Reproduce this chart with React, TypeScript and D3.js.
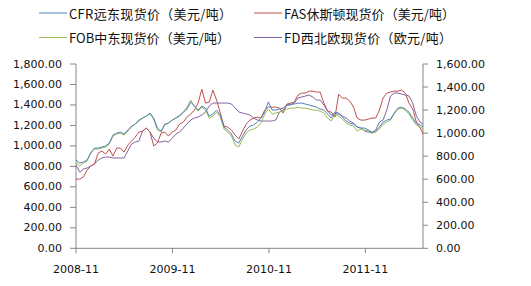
import React from "react";
import * as d3 from "d3";

// ---- data (biweekly observations starting 2008-11-01) ----
const START_DATE = "2008-11-01";
const END_DATE = "2012-06-06";
const STEP_DAYS = 14;

const SERIES_NAMES = [
  "CFR远东现货价（美元/吨）",
  "FAS休斯顿现货价（美元/吨）",
  "FOB中东现货价（美元/吨）",
  "FD西北欧现货价（欧元/吨）",
];

const CFR_FAR_EAST = [
  862, 833, 842, 862, 930, 979, 979, 989, 999, 1028,
  1106, 1125, 1135, 1116, 1155, 1194, 1213, 1252, 1272, 1291,
  1321, 1272, 1174, 1145, 1213, 1223, 1252, 1272, 1291, 1330,
  1360, 1428, 1389, 1350, 1389, 1369, 1291, 1311, 1350, 1301,
  1184, 1155, 1116, 1047, 1028, 1096, 1155, 1194, 1204, 1233,
  1272, 1330, 1430, 1350, 1350, 1360, 1369, 1399, 1409, 1409,
  1418, 1418, 1409, 1399, 1389, 1379, 1360, 1350, 1311, 1272,
  1330, 1321, 1282, 1243, 1223, 1213, 1184, 1174, 1174, 1155,
  1135, 1145, 1184, 1233, 1252, 1262, 1321, 1369, 1379, 1360,
  1330, 1272, 1223, 1204, 1184,
];

const FAS_HOUSTON = [
  676, 676, 696, 764, 803, 823, 930, 950, 920, 969,
  901, 979, 979, 940, 1008, 1047, 1086, 1135, 1145, 1174,
  1135, 999, 1028, 1125, 1135, 1096, 1135, 1155, 1213, 1233,
  1282, 1311, 1350, 1418, 1555, 1418, 1428, 1545, 1448, 1321,
  1194, 1184, 1155, 1106, 1067, 1145, 1213, 1252, 1272, 1282,
  1272, 1350, 1379, 1379, 1379, 1369, 1321, 1409, 1418, 1428,
  1497, 1516, 1516, 1535, 1535, 1526, 1526, 1418, 1340, 1330,
  1282, 1506, 1467, 1467, 1438, 1379, 1272, 1252, 1252, 1262,
  1272, 1272, 1350, 1467, 1516, 1526, 1535, 1535, 1545, 1516,
  1418, 1360, 1233, 1174, 1106,
];

const FOB_MIDDLE_EAST = [
  842, 803, 833, 852, 940, 969, 969, 979, 989, 1018,
  1096, 1116, 1125, 1106, 1145, 1184, 1213, 1243, 1272, 1291,
  1311, 1262, 1155, 1135, 1204, 1223, 1252, 1272, 1301, 1330,
  1379, 1448, 1389, 1340, 1379, 1350, 1272, 1291, 1330, 1282,
  1165, 1135, 1096, 1008, 989, 1067, 1125, 1155, 1165, 1184,
  1223, 1311, 1360, 1311, 1321, 1330, 1340, 1360, 1369, 1369,
  1379, 1369, 1369, 1360, 1350, 1350, 1340, 1321, 1272, 1243,
  1311, 1291, 1262, 1223, 1204, 1194, 1145, 1165, 1155, 1145,
  1125, 1135, 1165, 1213, 1233, 1252, 1311, 1360, 1369, 1350,
  1311, 1252, 1204, 1184, 1165,
];

// right axis (EUR)
const FD_NW_EUROPE = [
  723, 662, 688, 697, 714, 732, 766, 784, 792, 792,
  784, 784, 784, 784, 845, 905, 923, 931, 1018, 1044,
  1009, 957, 923, 923, 931, 923, 957, 992, 1009, 1044,
  1079, 1114, 1131, 1140, 1157, 1183, 1235, 1261, 1261, 1261,
  1261, 1261, 1253, 1218, 1183, 1174, 1166, 1157, 1131, 1114,
  1105, 1105, 1105, 1105, 1114, 1183, 1200, 1244, 1244, 1261,
  1305, 1313, 1322, 1331, 1313, 1287, 1287, 1244, 1192, 1157,
  1166, 1166, 1148, 1131, 1105, 1088, 1053, 1044, 1018, 1009,
  1001, 1027, 1096, 1114, 1200, 1322, 1348, 1348, 1339, 1331,
  1322, 1261, 1148, 1096, 1070,
];

const LEFT_TICKS = [0, 200, 400, 600, 800, 1000, 1200, 1400, 1600, 1800];
const RIGHT_TICKS = [0, 200, 400, 600, 800, 1000, 1200, 1400, 1600];
const X_TICK_LABELS = ["2008-11", "2009-11", "2010-11", "2011-11"];

const COLORS = ["#4F81BD", "#C0504D", "#9BBB59", "#8064A2"];

export default function App() {
  const W = 531, H = 286;
  const L = 76, R = 423, T = 64, B = 248.3;
  const parse = d3.timeParse("%Y-%m-%d");
  const start = parse(START_DATE)!;
  const end = parse(END_DATE)!;
  const x = d3.scaleTime().domain([start, end]).range([L, R]);
  const yL = d3.scaleLinear().domain([0, 1800]).range([B, T]);
  const yR = d3.scaleLinear().domain([0, 1600]).range([B, T]);
  const dates = CFR_FAR_EAST.map((_, i) => d3.timeDay.offset(start, i * STEP_DAYS));

  const mk = (vals: number[], y: d3.ScaleLinear<number, number>) =>
    d3.line<number>().x((_, i) => x(dates[i])).y((v) => y(v))(vals) || "";

  const series = [
    { name: SERIES_NAMES[0], d: mk(CFR_FAR_EAST, yL), c: COLORS[0] },
    { name: SERIES_NAMES[1], d: mk(FAS_HOUSTON, yL), c: COLORS[1] },
    { name: SERIES_NAMES[2], d: mk(FOB_MIDDLE_EAST, yL), c: COLORS[2] },
    { name: SERIES_NAMES[3], d: mk(FD_NW_EUROPE, yR), c: COLORS[3] },
  ];
  const drawOrder = [3, 1, 2, 0];
  const fmt = d3.format(",.2f");
  const numFont = "'DejaVu Sans', Verdana, sans-serif";
  const legFont = "'Noto Sans CJK SC', 'DejaVu Sans', sans-serif";
  const xTicks = X_TICK_LABELS.map((s) => ({ s, d: d3.timeParse("%Y-%m")(s)! }));
  const legendPos = [
    { lx: 39, ty: 13, w: 163 },
    { lx: 254, ty: 13, w: 171 },
    { lx: 39, ty: 37.5, w: 161 },
    { lx: 254, ty: 37.5, w: 168 },
  ];
  const axisColor = "#868686";

  return (
    <svg width={W} height={H} style={{ position: "absolute", left: 0, top: 0, background: "#fff" }}>
      <defs>
        <clipPath id="plot">
          <rect x={L} y={0} width={R - L} height={H} />
        </clipPath>
      </defs>
      {/* legend */}
      {series.map((s, i) => {
        const p = legendPos[i];
        return (
          <g key={s.name}>
            <line x1={p.lx} x2={p.lx + 28} y1={p.ty} y2={p.ty} stroke={s.c} strokeWidth={1} />
            <text
              x={p.lx + 30}
              y={p.ty}
              dominantBaseline="central"
              fontFamily={legFont}
              fontSize={13}
              fill="#111"
              textLength={p.w}
              lengthAdjust="spacing"
            >
              {s.name}
            </text>
          </g>
        );
      })}
      {/* left axis */}
      <line x1={L} x2={L} y1={T} y2={B} stroke={axisColor} />
      {LEFT_TICKS.map((t) => (
        <g key={"l" + t}>
          <line x1={L - 6} x2={L} y1={yL(t)} y2={yL(t)} stroke={axisColor} />
          <text x={62} y={yL(t)} textAnchor="end" dominantBaseline="central" fontFamily={numFont} fontSize={11} fill="#111">
            {fmt(t)}
          </text>
        </g>
      ))}
      {/* right axis */}
      <line x1={R} x2={R} y1={T} y2={B} stroke={axisColor} />
      {RIGHT_TICKS.map((t) => (
        <g key={"r" + t}>
          <line x1={R} x2={R + 5} y1={yR(t)} y2={yR(t)} stroke={axisColor} />
          <text x={436} y={yR(t)} textAnchor="start" dominantBaseline="central" fontFamily={numFont} fontSize={11} fill="#111">
            {fmt(t)}
          </text>
        </g>
      ))}
      {/* bottom axis */}
      <line x1={L} x2={R} y1={B} y2={B} stroke={axisColor} />
      {xTicks.map((t) => (
        <g key={t.s}>
          <line x1={x(t.d)} x2={x(t.d)} y1={B} y2={B + 5} stroke={axisColor} />
          <text x={x(t.d)} y={269} textAnchor="middle" dominantBaseline="central" fontFamily={numFont} fontSize={11} fill="#111">
            {t.s}
          </text>
        </g>
      ))}
      {/* series */}
      <g clipPath="url(#plot)">
        {drawOrder.map((i) => (
          <path key={i} d={series[i].d} fill="none" stroke={series[i].c} strokeWidth={1} strokeLinejoin="round" />
        ))}
      </g>
    </svg>
  );
}
